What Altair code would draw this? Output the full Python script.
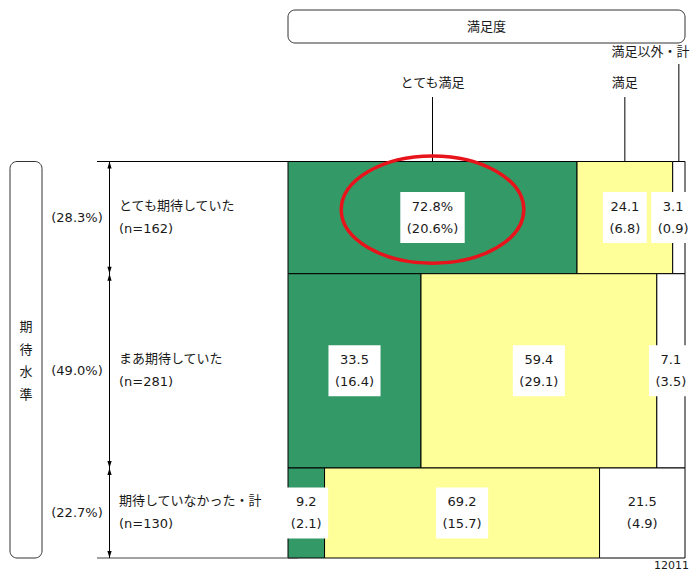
import altair as alt
import pandas as pd

# ---------------- data ----------------
expect_levels = ["とても期待していた", "まあ期待していた", "期待していなかった・計"]
expect_n = [162, 281, 130]
expect_share = [28.3, 49.0, 22.7]
sat_levels = ["とても満足", "満足", "満足以外・計"]
row_pct = [[72.8, 24.1, 3.1], [33.5, 59.4, 7.1], [9.2, 69.2, 21.5]]
cell_share = [[20.6, 6.8, 0.9], [16.4, 29.1, 3.5], [2.1, 15.7, 4.9]]
header_title = "満足度"
side_title = "期待水準"
footnote = "12011"
sat_colors = ["#339966", "#FFFF99", "#FFFFFF"]

# ---------------- layout (page pixels -> mosaic units) ----------------
W, H = 682, 564
PX_L, PX_R, PY_T, PY_B = 288.0, 685.0, 161.5, 558.0
KX = (PX_R - PX_L) / 100.0
KY = (PY_B - PY_T) / 100.0


def ux(px):
    return (px - PX_L) / KX


def uy(py):
    return (py - PY_T) / KY


X_DOM = [ux(8), ux(8 + W)]
Y_DOM = [uy(8), uy(8 + H)]
xs = alt.Scale(domain=X_DOM, nice=False, zero=False)
ys = alt.Scale(domain=Y_DOM, nice=False, zero=False, reverse=True)
FONT = "DejaVu Sans, Noto Sans CJK JP, sans-serif"
TXT = "#1a1a1a"


def X(f="x"):
    return alt.X(f + ":Q", scale=xs, axis=None)


def Y(f="y"):
    return alt.Y(f + ":Q", scale=ys, axis=None)


CW = {"(": 0.39, ")": 0.39, ".": 0.318, "%": 0.95}


def text_w(s, fs=13):
    return sum(CW.get(c, 0.636) for c in s) * fs


# ---------------- mosaic cells ----------------
cells = []
y0 = 0.0
for i, lvl in enumerate(expect_levels):
    y1 = y0 + expect_share[i]
    tot = sum(row_pct[i])
    x0 = 0.0
    for j, s in enumerate(sat_levels):
        x1 = x0 + row_pct[i][j] / tot * 100.0
        if i == 0 and j == 0:
            l1, l2 = f"{row_pct[i][j]:.1f}%", f"({cell_share[i][j]:.1f}%)"
        else:
            l1, l2 = f"{row_pct[i][j]:.1f}", f"({cell_share[i][j]:.1f})"
        tw = max(text_w(l1), text_w(l2))
        bw = (tw + 13) / KX
        bh = 51 / KY
        cx, cy = (x0 + x1) / 2, (y0 + y1) / 2
        # keep the label inside the page
        cx = min(cx, ux(8 + W - 1.5 - tw / 2))
        cells.append(dict(row=lvl, sat=s, x=x0, x2=x1, y=y0, y2=y1,
                          cx=cx, cy=cy, mx=(x0 + x1) / 2, label=l1 + "\n" + l2,
                          bx=cx - bw / 2, bx2=cx + bw / 2,
                          by=cy - bh / 2, by2=cy + bh / 2))
        x0 = x1
    y0 = y1
cells = pd.DataFrame(cells)

rects = alt.Chart(cells).mark_rect(stroke="#000", strokeWidth=1).encode(
    x=X(), x2="x2:Q", y=Y(), y2="y2:Q",
    color=alt.Color("sat:N", scale=alt.Scale(domain=sat_levels, range=sat_colors), legend=None),
)
boxes = alt.Chart(cells).mark_rect(fill="white", strokeWidth=0).encode(
    x=X("bx"), x2="bx2:Q", y=Y("by"), y2="by2:Q"
)
cell_txt = alt.Chart(cells).mark_text(
    font=FONT, fontSize=13, color=TXT, lineBreak="\n", lineHeight=22, baseline="middle", dy=-11
).encode(x=X("cx"), y=Y("cy"), text="label:N")

# red ellipse around the first cell
first = cells.iloc[[0]]
ELLIPSE = "M -1 0 A 1 0.588 0 1 0 1 0 A 1 0.588 0 1 0 -1 0 Z"
ellipse = alt.Chart(first).mark_point(
    shape=ELLIPSE, size=182.6 ** 2, filled=False, color="#e8141b",
    strokeWidth=3.5, opacity=1, yOffset=-8
).encode(x=X("cx"), y=Y("cy"))

# ---------------- decorations ----------------
row1 = cells[cells["row"] == expect_levels[0]].reset_index(drop=True)
lines = []
for j, s in enumerate(sat_levels):
    top = uy(64) if j == 2 else uy(97)
    lines.append(dict(x=row1.loc[j, "mx"], x2=row1.loc[j, "mx"], y=top, y2=0, c="#000"))
ax_x = ux(109.5)
lines.append(dict(x=ux(97), x2=0, y=0, y2=0, c="#000"))
lines.append(dict(x=ux(97), x2=ux(298), y=100, y2=100, c="#444"))
lines.append(dict(x=ax_x, x2=ax_x, y=0, y2=100, c="#000"))
lines = pd.DataFrame(lines)
rules = alt.Chart(lines).mark_rule(strokeWidth=1).encode(
    x=X(), x2="x2:Q", y=Y(), y2="y2:Q", color=alt.Color("c:N", scale=None)
)

UP = "M 0 0 L -0.3 1 L 0.3 1 Z"
DOWN = "M 0 0 L -0.3 -1 L 0.3 -1 Z"
heads = []
yb = 0.0
for sh in expect_share:
    heads.append(dict(x=ax_x, y=yb, d="up"))
    heads.append(dict(x=ax_x, y=yb + sh, d="down"))
    yb += sh
heads = pd.DataFrame(heads)
arrows = alt.Chart(heads).mark_point(filled=True, color="#000", opacity=1, size=196, strokeWidth=0).encode(
    x=X(), y=Y(),
    shape=alt.Shape("d:N", scale=alt.Scale(domain=["up", "down"], range=[UP, DOWN]), legend=None),
)

frames = pd.DataFrame([
    dict(x=0, x2=100, y=uy(10), y2=uy(43)),
    dict(x=ux(10), x2=ux(42), y=0, y2=100),
])
frame_rects = alt.Chart(frames).mark_rect(
    fill="white", stroke="#333", strokeWidth=1, cornerRadius=7
).encode(x=X(), x2="x2:Q", y=Y(), y2="y2:Q")

# single-line centred texts
ctr = [dict(x=50, y=uy(26.5), t=header_title)]
for j in range(2):
    ctr.append(dict(x=row1.loc[j, "mx"], y=uy(83), t=sat_levels[j]))
yb = 0.0
row_lab = []
for i, sh in enumerate(expect_share):
    c = yb + sh / 2
    ctr.append(dict(x=ux(77), y=c, t=f"({sh:.1f}%)"))
    row_lab.append(dict(x=ux(119), y=c, t=f"{expect_levels[i]}\n(n={expect_n[i]})"))
    yb += sh
ctr = pd.DataFrame(ctr)
row_lab = pd.DataFrame(row_lab)
side = pd.DataFrame([dict(x=ux(26), y=uy(361), t="\n".join(side_title))])

ctr_txt = alt.Chart(ctr).mark_text(
    font=FONT, fontSize=13, color=TXT, baseline="middle", align="center"
).encode(x=X(), y=Y(), text="t:N")
side_txt = alt.Chart(side).mark_text(
    font=FONT, fontSize=13, color=TXT, lineBreak="\n", lineHeight=22.7,
    baseline="middle", align="center", dy=-34
).encode(x=X(), y=Y(), text="t:N")
left_txt = alt.Chart(row_lab).mark_text(
    font=FONT, fontSize=13, color=TXT, lineBreak="\n", lineHeight=23,
    baseline="middle", align="left", dy=-11.5
).encode(x=X(), y=Y(), text="t:N")

rt = pd.DataFrame([dict(x=ux(689.5), y=uy(52), t=sat_levels[2])])
right_txt = alt.Chart(rt).mark_text(
    font=FONT, fontSize=13, color=TXT, baseline="middle", align="right"
).encode(x=X(), y=Y(), text="t:N")
fn = pd.DataFrame([dict(x=ux(689), y=uy(569), t=footnote)])
foot_txt = alt.Chart(fn).mark_text(
    font=FONT, fontSize=11, color=TXT, baseline="alphabetic", align="right"
).encode(x=X(), y=Y(), text="t:N")

chart = alt.layer(
    frame_rects, rects, rules, arrows, boxes, cell_txt, ellipse,
    ctr_txt, side_txt, left_txt, right_txt, foot_txt
).properties(
    width=W, height=H, padding=0, autosize=alt.AutoSizeParams(type="none")
).configure_view(stroke=None)

chart.save("out.html", embed_options={"renderer": "svg", "actions": False})
